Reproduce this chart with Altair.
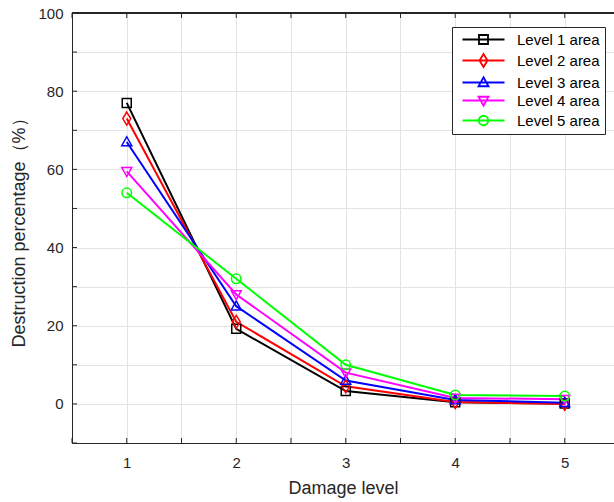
import altair as alt
import pandas as pd

# ---- data ----
damage_levels = [1, 2, 3, 4, 5]
series_names = ["Level 1 area", "Level 2 area", "Level 3 area", "Level 4 area", "Level 5 area"]
level1 = [77.0, 19.2, 3.3, 0.4, 0.1]
level2 = [73.0, 21.0, 4.5, 0.5, 0.0]
level3 = [67.0, 25.0, 6.0, 1.0, 0.3]
level4 = [59.5, 28.0, 8.0, 1.5, 1.2]
level5 = [54.0, 32.0, 10.0, 2.3, 2.0]
x_ticks = [0.5, 1, 1.5, 2, 2.5, 3, 3.5, 4, 4.5, 5]
y_ticks = [-10, 0, 10, 20, 30, 40, 50, 60, 70, 80, 90, 100]

colors = ["#000000", "#ff0000", "#0000ff", "#ff00ff", "#00ff00"]

# marker shapes (custom paths, unit box)
mk = [
    "M-0.9,-0.9H0.9V0.9H-0.9Z",
    "M0,-1.3L0.8,0L0,1.3L-0.8,0Z",
    "M0,-1.05L1,0.75H-1Z",
    "M0,1.05L1,-0.75H-1Z",
    "M0.95,0A0.95,0.95 0 1,1 -0.95,0A0.95,0.95 0 1,1 0.95,0Z",
]
# legend symbols: line with marker in the middle
cx = 3.8
l0, l1 = -0.4, 8.0
lg = [
    f"M{l0},0H{l1}M{cx-0.9},-0.9H{cx+0.9}V0.9H{cx-0.9}Z",
    f"M{l0},0H{l1}M{cx},-1.3L{cx+0.8},0L{cx},1.3L{cx-0.8},0Z",
    f"M{l0},0H{l1}M{cx},-1.05L{cx+1},0.75H{cx-1}Z",
    f"M{l0},0H{l1}M{cx},1.05L{cx+1},-0.75H{cx-1}Z",
    f"M{l0},0H{l1}M{cx+0.95},0A0.95,0.95 0 1,1 {cx-0.95},0A0.95,0.95 0 1,1 {cx+0.95},0Z",
]

rows = []
for name, vals in zip(series_names, [level1, level2, level3, level4, level5]):
    for x, v in zip(damage_levels, vals):
        rows.append({"x": x, "y": v, "series": name})
df = pd.DataFrame(rows)

FONT = "Liberation Sans"
TXT = "#262626"
W, H = 542, 430

xscale = alt.Scale(domain=[0.5, 5.45], nice=False, zero=False)
yscale = alt.Scale(domain=[-10, 100], nice=False, zero=False)

x_axis = alt.Axis(
    orient="bottom", values=x_ticks,
    labelExpr="datum.value % 1 == 0 ? format(datum.value, 'd') : ''",
    ticks=False, grid=True, gridColor="#e3e3e3", domain=True, domainColor=TXT,
    labelFont=FONT, labelFontSize=15, labelColor=TXT, labelPadding=12,
    title="Damage level", titleFont=FONT, titleFontSize=18, titleFontWeight="normal",
    titleColor=TXT, titlePadding=9)
y_axis = alt.Axis(
    orient="left", values=y_ticks,
    labelExpr="datum.value % 20 == 0 ? format(datum.value, 'd') : ''",
    ticks=False, grid=True, gridColor="#e3e3e3", domain=True, domainColor=TXT,
    labelFont=FONT, labelFontSize=15, labelColor=TXT, labelPadding=9,
    title="Destruction percentage（%）", titleFont=FONT, titleFontSize=18,
    titleFontWeight="normal", titleColor=TXT, titlePadding=9)

base = alt.Chart(df)

lines = base.mark_line(strokeWidth=2).encode(
    x=alt.X("x:Q", scale=xscale, axis=x_axis),
    y=alt.Y("y:Q", scale=yscale, axis=y_axis),
    color=alt.Color("series:N", scale=alt.Scale(domain=series_names, range=colors), legend=None),
    detail="series:N",
)

points = base.mark_point(filled=False, size=100, strokeWidth=1.5, opacity=1).encode(
    x=alt.X("x:Q", scale=xscale, axis=x_axis),
    y=alt.Y("y:Q", scale=yscale, axis=y_axis),
    color=alt.Color("series:N", scale=alt.Scale(domain=series_names, range=colors), legend=None),
    shape=alt.Shape("series:N", scale=alt.Scale(domain=series_names, range=mk), legend=None),
)

legend_layer = base.mark_point(filled=False, size=100, strokeWidth=1.5, opacity=1).encode(
    x=alt.X("x:Q", scale=xscale, axis=x_axis),
    y=alt.Y("y:Q", scale=yscale, axis=y_axis),
    color=alt.Color("series:N", scale=alt.Scale(domain=series_names, range=colors),
                    legend=alt.Legend(title=None, orient="none", legendX=380, legendY=14)),
    shape=alt.Shape("series:N", scale=alt.Scale(domain=series_names, range=lg),
                    legend=alt.Legend(title=None, orient="none", legendX=380, legendY=14)),
).transform_filter("false")

# axis decoration: inward ticks and top frame line
xt = alt.Chart(pd.DataFrame({"x": x_ticks}))
yt = alt.Chart(pd.DataFrame({"y": y_ticks}))
tick_bottom = xt.mark_rule(color=TXT, strokeWidth=1).encode(
    x=alt.X("x:Q", scale=xscale, axis=x_axis), y=alt.value(H), y2=alt.value(H - 5))
tick_top = xt.mark_rule(color=TXT, strokeWidth=1).encode(
    x=alt.X("x:Q", scale=xscale, axis=x_axis), y=alt.value(0), y2=alt.value(5))
tick_left = yt.mark_rule(color=TXT, strokeWidth=1).encode(
    y=alt.Y("y:Q", scale=yscale, axis=y_axis), x=alt.value(0), x2=alt.value(5))
top_frame = xt.mark_rule(color=TXT, strokeWidth=1).encode(
    x=alt.value(0), x2=alt.value(W), y=alt.value(0))

chart = alt.layer(lines, tick_bottom, tick_top, tick_left, top_frame, points, legend_layer).resolve_scale(
    color="independent", shape="independent"
).properties(
    width=W, height=H, background="white",
    autosize=alt.AutoSizeParams(type="none"),
    padding={"left": 72, "top": 13, "right": 0, "bottom": 59},
).configure_view(stroke=None).configure_legend(
    strokeColor=TXT, fillColor="white",
    padding=5, cornerRadius=0, labelFont=FONT, labelFontSize=15, labelColor="#000000",
    symbolSize=100, symbolStrokeWidth=1.8, symbolOpacity=1, labelOffset=45, rowPadding=2,
)

chart.save("out.html", embed_options={"renderer": "svg", "actions": False})
